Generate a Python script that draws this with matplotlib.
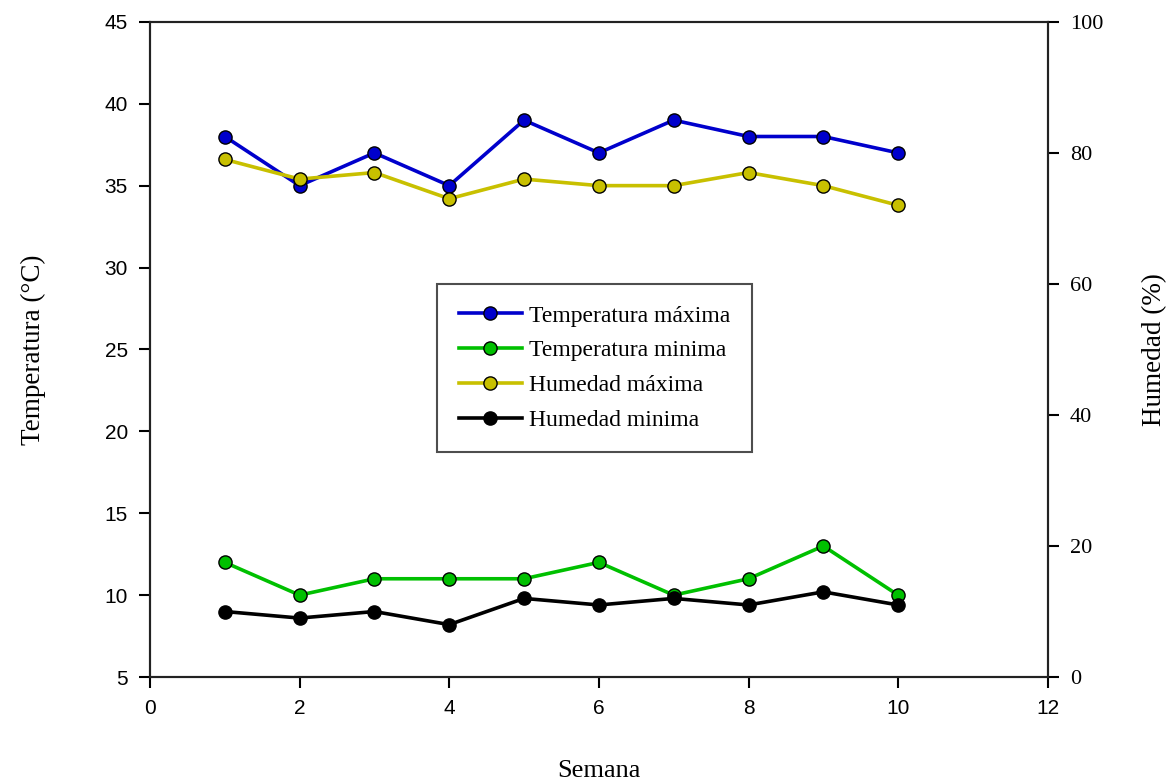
import matplotlib.pyplot as plt

semana = [1, 2, 3, 4, 5, 6, 7, 8, 9, 10]
temp_max = [38, 35, 37, 35, 39, 37, 39, 38, 38, 37]
temp_min = [12, 10, 11, 11, 11, 12, 10, 11, 13, 10]
hum_max = [79, 76, 77, 73, 76, 75, 75, 77, 75, 72]
hum_min = [10, 9, 10, 8, 12, 11, 12, 11, 13, 11]

serif = ["Liberation Serif", "DejaVu Serif"]
sans = ["Liberation Sans", "DejaVu Sans"]

fig = plt.figure(figsize=(11.69, 7.8), dpi=100)
ax = fig.add_axes([0.1283, 0.132, 0.768, 0.84])
ax2 = ax.twinx()

style = dict(lw=2.6, marker="o", ms=9.5, mec="black", mew=1.0)
h1, = ax.plot(semana, temp_max, color="#0000CC", label="Temperatura máxima", **style)
h2, = ax.plot(semana, temp_min, color="#00C000", label="Temperatura minima", **style)
h3, = ax2.plot(semana, hum_max, color="#C8C000", label="Humedad máxima", **style)
h4, = ax2.plot(semana, hum_min, color="black", label="Humedad minima", **style)

ax.set_xlim(0, 12)
ax.set_ylim(5, 45)
ax2.set_ylim(0, 100)
ax.set_xticks(range(0, 13, 2))
ax.set_yticks(range(5, 46, 5))
ax2.set_yticks(range(0, 101, 20))

for a in (ax, ax2):
    for s in a.spines.values():
        s.set_linewidth(1.5)
        s.set_color("#222222")
ax.tick_params(axis="both", direction="out", length=8, width=1.5, labelsize=15, pad=8)
ax2.tick_params(axis="y", direction="out", length=8, width=1.5, labelsize=16, pad=8)
for t in ax.get_xticklabels() + ax.get_yticklabels():
    t.set_family(sans)
for t in ax2.get_yticklabels():
    t.set_family(serif)

ax.set_xlabel("Semana", family=serif, fontsize=19, labelpad=30)
ax.set_ylabel("Temperatura (°C)", family=serif, fontsize=19.5, labelpad=42)
ax2.set_ylabel("Humedad (%)", family=serif, fontsize=19.5, labelpad=28)

leg = ax2.legend(handles=[h1, h2, h3, h4], loc="upper left", bbox_to_anchor=(0.32, 0.6),
                 prop={"family": serif, "size": 17}, frameon=True, fancybox=False,
                 handlelength=2.7, borderpad=0.9, labelspacing=0.56, handletextpad=0.3,
                 borderaxespad=0)
leg.get_frame().set_edgecolor("#222222")
leg.get_frame().set_linewidth(1.5)

fig.savefig("out.png", dpi=100)
